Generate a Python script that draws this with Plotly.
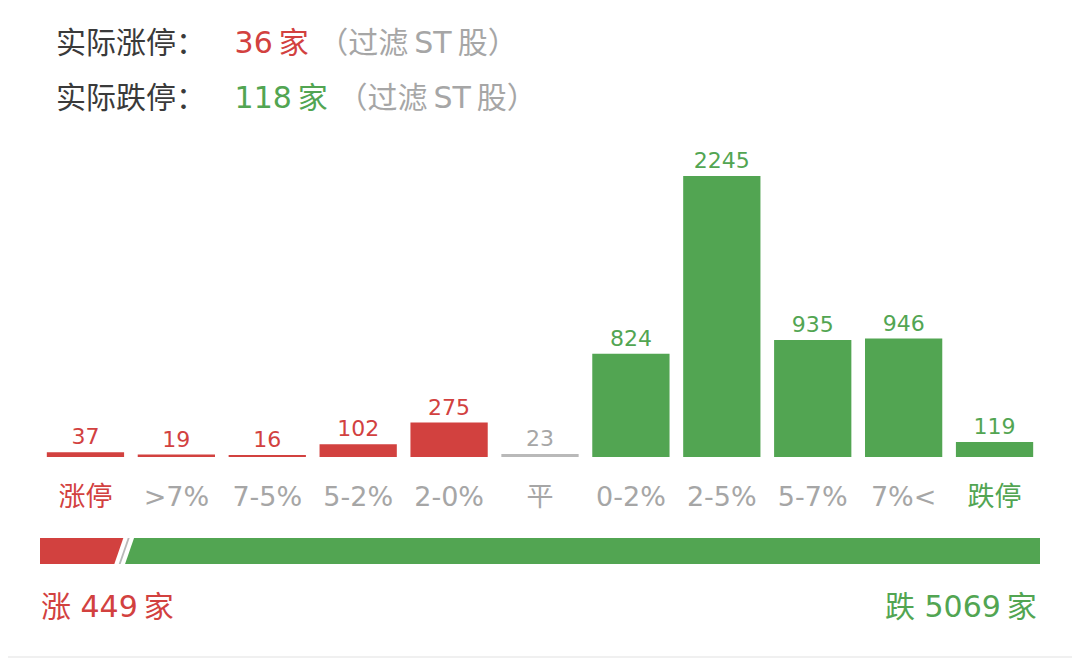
import plotly.graph_objects as go

# distribution of price moves (number of stocks)
categories = ['涨停', '>7%', '7-5%', '5-2%', '2-0%', '平', '0-2%', '2-5%', '5-7%', '7%<', '跌停']
counts = [37, 19, 16, 102, 275, 23, 824, 2245, 935, 946, 119]
sides = ['up', 'up', 'up', 'up', 'up', 'flat', 'down', 'down', 'down', 'down', 'down']

# summary numbers
limit_up_real = 36
limit_down_real = 118
total_up = 449
total_flat = 23
total_down = 5069

RED = '#d2413f'
GREEN = '#52a552'
GRAY = '#b9b9b9'
LABEL_GRAY = '#a6a6a6'
DARK = '#3a3a3a'
FONT = 'DejaVu Sans, Noto Sans CJK SC, sans-serif'
THIN = '\u2009'

# page has an 8px body margin, so work in screen pixels and convert
W, H, OFF = 1072, 652, 8
def px(x):
    return (x - OFF) / W
def py(y):
    return 1 - (y - OFF) / H

side_color = {'up': RED, 'flat': GRAY, 'down': GREEN}
bar_colors = [side_color[s] for s in sides]
text_colors = [{'up': RED, 'flat': LABEL_GRAY, 'down': GREEN}[s] for s in sides]

tick_colors = [LABEL_GRAY] * len(categories)
tick_colors[0] = RED
tick_colors[-1] = GREEN
tick_text = [f'<span style="color:{c}">{t}</span>' for t, c in zip(categories, tick_colors)]

fig = go.Figure()

fig.add_trace(go.Bar(
    x=categories, y=counts,
    marker=dict(color=bar_colors, line=dict(width=0)),
    text=[str(v) for v in counts], textposition='outside',
    textfont=dict(color=text_colors, size=22, family=FONT),
    cliponaxis=False, hoverinfo='skip', showlegend=False,
))

# bottom ratio bar with slanted separators
total = total_up + total_flat + total_down
slant = 0.0045 * total
gap = 0.0022 * total

def band(x0, x1, left_flat=False, right_flat=False):
    lt = x0 if left_flat else x0 + slant
    lb = x0 if left_flat else x0 - slant
    rt = x1 if right_flat else x1 + slant
    rb = x1 if right_flat else x1 - slant
    return [lb, lt, rt, rb, lb], [0, 1, 1, 0, 0]

segments = [
    (0, total_up - gap, True, False, RED),
    (total_up + gap, total_up + total_flat - gap + 12, False, False, GRAY),
    (total_up + total_flat + gap + 12, total, False, True, GREEN),
]
for x0, x1, lf, rf, col in segments:
    xs, ys = band(x0, x1, lf, rf)
    fig.add_trace(go.Scatter(
        x=xs, y=ys, xaxis='x2', yaxis='y2', mode='lines', fill='toself',
        fillcolor=col, line=dict(width=0), hoverinfo='skip', showlegend=False,
    ))

fig.update_layout(
    width=W, height=H,
    margin=dict(l=0, r=0, t=0, b=0),
    paper_bgcolor='white', plot_bgcolor='white',
    font=dict(family=FONT),
    bargap=0.15,
    xaxis=dict(
        domain=[px(40), px(1040)],
        tickmode='array', tickvals=categories, ticktext=tick_text,
        tickfont=dict(size=27, family=FONT),
        ticks='', showline=False, showgrid=False, zeroline=False,
        ticklabelstandoff=21,
    ),
    yaxis=dict(
        domain=[py(457), py(131.5)], range=[0, 2600],
        visible=False, showgrid=False, zeroline=False,
    ),
    xaxis2=dict(
        domain=[px(40), px(1040)], range=[0, total], anchor='y2',
        visible=False, showgrid=False, zeroline=False,
    ),
    yaxis2=dict(
        domain=[py(564), py(538)], range=[0, 1], anchor='x2',
        visible=False, showgrid=False, zeroline=False,
    ),
)

head = (
    f'<span style="color:{DARK}">{{}}：</span>   '
    f'<span style="color:{{}}">{{}}{THIN}家</span> '
    f'<span style="color:{LABEL_GRAY}">（过滤{THIN}ST{THIN}股）</span>'
)
fig.add_annotation(
    x=px(54), y=py(42), xref='paper', yref='paper',
    xanchor='left', yanchor='middle', showarrow=False,
    text=head.format('实际涨停', RED, limit_up_real),
    font=dict(size=30, family=FONT),
)
fig.add_annotation(
    x=px(54), y=py(97), xref='paper', yref='paper',
    xanchor='left', yanchor='middle', showarrow=False,
    text=head.format('实际跌停', GREEN, limit_down_real),
    font=dict(size=30, family=FONT),
)

fig.add_annotation(
    x=px(39), y=py(606), xref='paper', yref='paper',
    xanchor='left', yanchor='middle', showarrow=False,
    text=f'涨 {total_up}{THIN}家', font=dict(size=30, color=RED, family=FONT),
)
fig.add_annotation(
    x=px(1039), y=py(606), xref='paper', yref='paper',
    xanchor='right', yanchor='middle', showarrow=False,
    text=f'跌 {total_down}{THIN}家', font=dict(size=30, color=GREEN, family=FONT),
)

fig.add_shape(type='line', xref='paper', yref='paper', x0=0, x1=1,
              y0=py(657), y1=py(657),
              line=dict(color='#f0f0f0', width=2))

fig.write_html('out.html')
print('Saved: out.html')
